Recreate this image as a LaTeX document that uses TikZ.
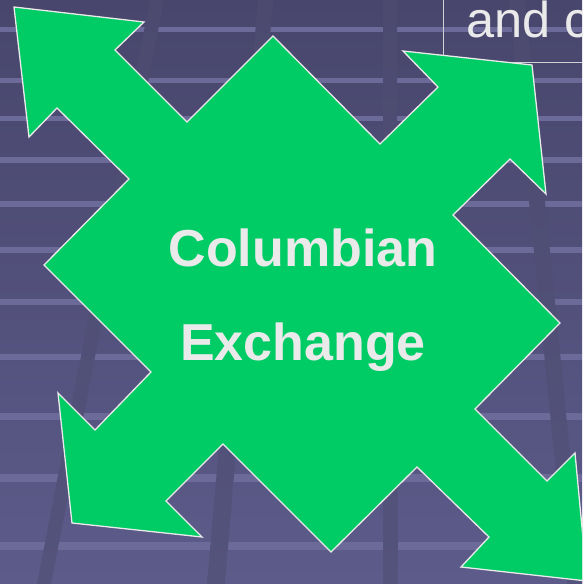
\documentclass[tikz,border=0pt]{standalone}
\usepackage{fontspec}
\setmainfont{Liberation Sans}
\definecolor{slidetop}{RGB}{72,70,108}
\definecolor{slidebottom}{RGB}{92,91,138}
\definecolor{bandtop}{RGB}{76,74,111}
\definecolor{bandbottom}{RGB}{84,83,124}
\definecolor{stripe}{RGB}{108,106,152}
\definecolor{arrowgreen}{RGB}{0,204,102}
\definecolor{lighttext}{RGB}{234,234,234}

\begin{document}
\begin{tikzpicture}[x=1pt,y=-1pt]
\tikzstyle{band}=[top color=bandtop,bottom color=bandbottom]
\tikzstyle{quad arrow}=[fill=arrowgreen,draw=lighttext,line width=1.3pt,line join=miter]
\tikzstyle{title text}=[lighttext,inner sep=0,anchor=base,font=\fontsize{52}{60}\selectfont\bfseries]
\tikzstyle{note text}=[lighttext,inner sep=0,anchor=base west,font=\fontsize{50.5}{58}\selectfont]

\clip (0,0) rectangle (582,584);
% slide background
\shade[top color=slidetop,bottom color=slidebottom] (0,0) rectangle (582,584);
\foreach \y/\w in {29/5,80/5,118/5,160/5.5,204/5.5,250/6,302/6,357/6.5,416/7,478/7.5,546/8}
    \draw[stripe,line width=\w] (0,\y) -- (582,\y);
\shade[band] (150,0) -- (164,0) -- (51,584) -- (37,584) -- cycle;
\shade[band] (258,0) -- (273,0) -- (225,584) -- (207,584) -- cycle;
\shade[band] (383,0) -- (397,0) -- (398,584) -- (383,584) -- cycle;
\shade[band] (509,0) -- (525,0) -- (583,584) -- (567,584) -- cycle;

% text box behind the arrow
\draw[lighttext!85!slidetop,line width=0.9pt] (443,-5) -- (443,62) -- (590,62);
\node(topnote)[note text] at (466,37) {and c};

% four-way arrow
\draw[quad arrow] (14,7) -- (144,22) -- (115,50) -- (187,122) -- (273,36) -- (380,144)
    -- (438,87) -- (403,51) -- (532,65) -- (546,194) -- (510,159) -- (453,215)
    -- (560,323) -- (475,409) -- (547,481) -- (575,453) -- (587,581) -- (461,567)
    -- (489,537) -- (417,467) -- (331,552) -- (223,444) -- (166,501) -- (202,537)
    -- (72,523) -- (58,393) -- (95,430) -- (151,372) -- (44,265) -- (129,179)
    -- (57,108) -- (29,137) -- cycle;

\node(title1)[title text] at (303,266) {Columbian};
\node(title2)[title text] at (303,360) {Exchange};

\end{tikzpicture}
\end{document}
